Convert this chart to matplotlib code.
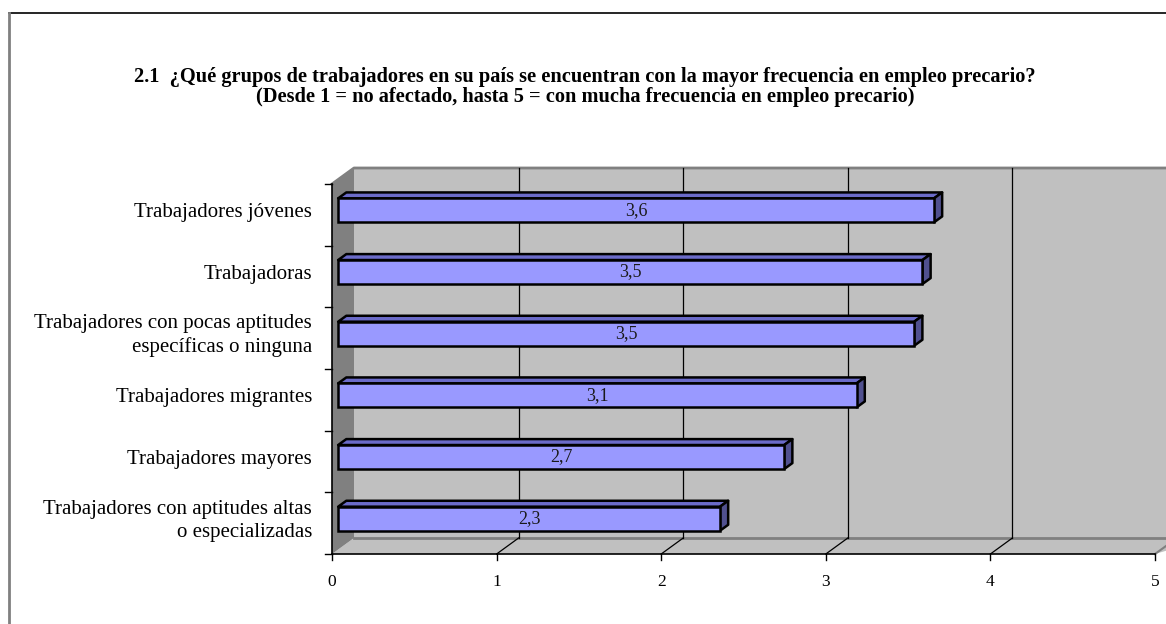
import numpy as np
import matplotlib
matplotlib.use('Agg')
import matplotlib.pyplot as plt
from matplotlib.patches import Polygon

# Data
categories = [
    'Trabajadores jóvenes',
    'Trabajadoras',
    'Trabajadores con pocas aptitudes\nespecíficas o ninguna',
    'Trabajadores migrantes',
    'Trabajadores mayores',
    'Trabajadores con aptitudes altas\no especializadas',
]
values = [3.62, 3.55, 3.50, 3.15, 2.71, 2.32]
value_labels = ['3,6', '3,5', '3,5', '3,1', '2,7', '2,3']
x_ticks = [0, 1, 2, 3, 4, 5]

title_lines = ['2.1  ¿Qué grupos de trabajadores en su país se encuentran con la mayor frecuencia en empleo precario?',
               '(Desde 1 = no afectado, hasta 5 = con mucha frecuencia en empleo precario)']

plt.rcParams['font.family'] = ['Liberation Serif', 'DejaVu Serif']

W, H = 1166, 624
fig = plt.figure(figsize=(W / 100, H / 100), dpi=100, facecolor='white')

# front plane of the pseudo-3D box, in pixels
px_left, px_right, px_top, px_bottom = 332, 1155, 184, 554
ax = fig.add_axes([px_left / W, 1 - px_bottom / H,
                   (px_right - px_left) / W, (px_bottom - px_top) / H])
ax.set_xlim(0, 5)
ax.set_ylim(5.5, -0.5)
ax.axis('off')

# depth offset (pixels) converted to data units
sx = (px_right - px_left) / 5.0
sy = (px_bottom - px_top) / 6.0
ddx = 22 / sx
ddy = -16 / sy

wall = '#C0C0C0'
side_wall = '#808080'
edge_gray = '#808080'

y0, y1 = -0.5, 5.5

# back wall (extends past the figure edge on the right)
ax.add_patch(Polygon([(ddx, y0 + ddy), (5.2 + ddx, y0 + ddy), (5.2 + ddx, y1 + ddy), (ddx, y1 + ddy)],
                     closed=True, facecolor=wall, edgecolor='none', clip_on=False, zorder=1))
# floor
ax.add_patch(Polygon([(0, y1), (5, y1), (5.2 + ddx, y1 + ddy), (ddx, y1 + ddy)],
                     closed=True, facecolor=wall, edgecolor='none', clip_on=False, zorder=1))
# left wall
ax.add_patch(Polygon([(0, y0), (ddx, y0 + ddy), (ddx, y1 + ddy), (0, y1)],
                     closed=True, facecolor=side_wall, edgecolor='none', clip_on=False, zorder=1))

# wall edges
ax.plot([0, ddx, 5.3 + ddx], [y0, y0 + ddy, y0 + ddy], color=edge_gray, lw=2, clip_on=False, zorder=2)
ax.plot([ddx, 5.3 + ddx], [y1 + ddy, y1 + ddy], color=edge_gray, lw=2, clip_on=False, zorder=2)
ax.plot([5, 5 + ddx], [y1, y1 + ddy], color=edge_gray, lw=1.5, clip_on=False, zorder=2)

# gridlines on the back wall and floor
for k in x_ticks[1:]:
    ax.plot([k + ddx, k + ddx], [y0 + ddy, y1 + ddy], color='black', lw=0.9, clip_on=False, zorder=2)
    if k < 5:
        ax.plot([k, k + ddx], [y1, y1 + ddy], color='black', lw=0.9, clip_on=False, zorder=2)

# axes lines + ticks
ax.plot([0, 5], [y1, y1], color='black', lw=1.2, clip_on=False, zorder=3)
ax.plot([0, 0], [y0, y1], color='black', lw=1.2, clip_on=False, zorder=3)
tick_len_y = 6 / sy
tick_len_x = 7 / sx
for k in x_ticks:
    ax.plot([k, k], [y1, y1 + tick_len_y], color='black', lw=1, clip_on=False, zorder=3)
    ax.text(k, y1 + 28 / sy, str(k), ha='center', va='center', fontsize=12.5, clip_on=False)
for b in np.arange(-0.5, 6.0, 1.0):
    ax.plot([-tick_len_x, 0], [b, b], color='black', lw=1, clip_on=False, zorder=3)

# bars
f1, f2 = 0.28, 0.65
bar_h = 24 / sy
face = '#9999FF'
top_c = '#6B6BC9'
side_c = '#50508F'
ypos = np.arange(len(categories))
x0 = f1 * ddx
yc = ypos + f1 * ddy
bx = (f2 - f1) * ddx
by = (f2 - f1) * ddy

for i, v in enumerate(values):
    yt = yc[i] - bar_h / 2
    yb = yc[i] + bar_h / 2
    ax.add_patch(Polygon([(x0, yt), (x0 + v, yt), (x0 + v + bx, yt + by), (x0 + bx, yt + by)],
                         closed=True, facecolor=top_c, edgecolor='black', lw=1.8,
                         joinstyle='round', clip_on=False, zorder=4))
    ax.add_patch(Polygon([(x0 + v, yt), (x0 + v, yb), (x0 + v + bx, yb + by), (x0 + v + bx, yt + by)],
                         closed=True, facecolor=side_c, edgecolor='black', lw=1.8,
                         joinstyle='round', clip_on=False, zorder=4))

ax.barh(yc, values, height=bar_h, left=x0, color=face, edgecolor='black', linewidth=1.8, zorder=5)

for i, (v, lab) in enumerate(zip(values, value_labels)):
    ax.text(x0 + v / 2, yc[i], lab, ha='center', va='center', fontsize=13, color='#1a1a1a', zorder=6)
    ax.text(-20 / sx, yc[i] + 2 / sy, categories[i], ha='right', va='center', fontsize=15,
            linespacing=1.3, clip_on=False)

fig.text(585 / W, 1 - 82 / H, title_lines[0], ha='center', va='baseline', fontsize=14.7,
         fontweight='bold')
fig.text(585 / W, 1 - 102 / H, title_lines[1], ha='center', va='baseline', fontsize=14.7,
         fontweight='bold')

# chart area border (only top and left visible in the reference)
fig.add_artist(plt.Line2D([8.5 / W, 1], [1 - 13 / H, 1 - 13 / H], color='black', lw=1.2))
fig.add_artist(plt.Line2D([8.5 / W, 8.5 / W], [0, 1 - 13 / H], color='#808080', lw=2))

fig.savefig('out.png', dpi=100, facecolor='white')
